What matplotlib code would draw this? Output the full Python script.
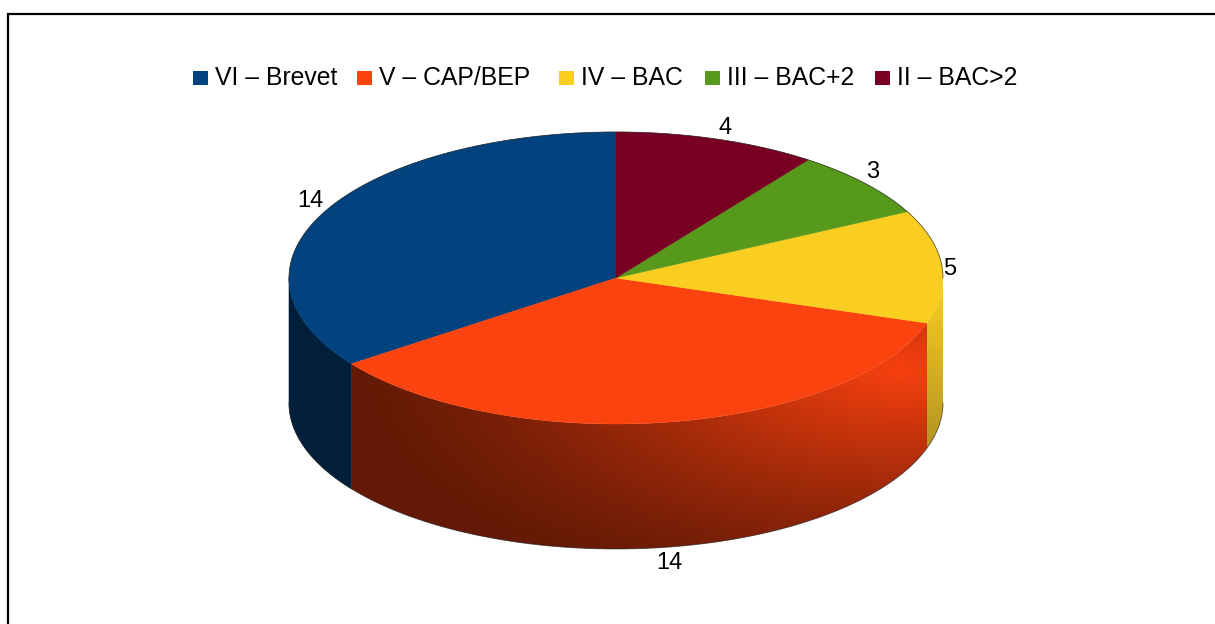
#!/usr/bin/env python3
"""3D-looking pie of diploma levels, drawn with polygons on a pixel-sized axes."""
import numpy as np
import matplotlib
matplotlib.use('Agg')
import matplotlib.pyplot as plt
from matplotlib.patches import Polygon, Rectangle

plt.rcParams['font.family'] = ['Liberation Sans', 'DejaVu Sans']

labels = ['VI – Brevet', 'V – CAP/BEP', 'IV – BAC', 'III – BAC+2', 'II – BAC>2']
values = [14, 14, 5, 3, 4]
colors = ['#01427f', '#fb430f', '#f9ce20', '#57991b', '#780022']

W, H = 1215, 624
CX, CY = 616, 278
RX, RY = 327, 146
DEPTH = 125

# offsets of the value labels from the rim point at each slice's mid angle
label_offsets = [(-14, -11), (2, 16), (8, 2), (8, -11), (8, -11)]
legend_boxes = [193, 357, 559, 705, 875]
legend_text = [215, 379, 581, 727, 897]


def rim(ang):
    a = np.radians(ang)
    return CX + RX * np.cos(a), CY - RY * np.sin(a)


def arc(a0, a1, n=200):
    xs, ys = rim(np.linspace(a0, a1, n))
    return np.column_stack([xs, ys])


fig = plt.figure(figsize=(W / 100, H / 100), dpi=100)
ax = fig.add_axes([0, 0, 1, 1])
ax.set_xlim(0, W)
ax.set_ylim(H, 0)
ax.axis('off')

# slice angles, going counter-clockwise from the top
total = sum(values)
angles = [90.0]
for v in values:
    angles.append(angles[-1] + v / total * 360)

# yellow side, partly hidden by the orange one
top = arc(angles[2], 360.0)
yellow_side = Polygon(np.vstack([top, top[::-1] + [0, DEPTH]]), closed=True, fc='none', ec='none')
ax.add_patch(yellow_side)
yy = np.linspace(0, 1, 128).reshape(-1, 1)
ramp = np.dstack([0.98 - 0.30 * yy, 0.81 - 0.25 * yy, 0.13 * np.ones_like(yy)])
im = ax.imshow(ramp, extent=[915, 945, CY + DEPTH + 60, CY], aspect='auto', zorder=1)
im.set_clip_path(yellow_side)

# orange side with a soft light spot towards the upper right
top = arc(angles[1], angles[2])
orange_side = Polygon(np.vstack([top, top[::-1] + [0, DEPTH]]), closed=True, fc='none', ec='none')
ax.add_patch(orange_side)
gx, gy = np.meshgrid(np.arange(340, 940), np.arange(310, 560))
dist = np.sqrt(((gx - 900) / 520) ** 2 + ((gy - 370) / 230) ** 2)
shade = 0.39 + 0.58 * np.clip(1.0 - dist / 1.05, 0, 1) ** 1.3
orange_rgb = np.dstack([shade * 1.0, shade * 0.26, shade * 0.06])
im = ax.imshow(orange_rgb, extent=[340, 940, 560, 310], aspect='auto', zorder=2)
im.set_clip_path(orange_side)

# blue side, on top of the orange seam
top = arc(180.0, angles[1])
ax.add_patch(Polygon(np.vstack([top, top[::-1] + [0, DEPTH]]), closed=True,
                     fc='#011e3a', ec='#011e3a', lw=0.4, zorder=3))

# top faces
for i, c in enumerate(colors):
    pts = np.vstack([[CX, CY], arc(angles[i], angles[i + 1])])
    ax.add_patch(Polygon(pts, closed=True, fc=c, ec=c, lw=0.3, zorder=4))

# dark outline along the silhouette
ax.plot(*arc(0, 180).T, color='#222222', lw=0.6, alpha=0.7, zorder=5)
ax.plot(*(arc(180, 360) + [0, DEPTH]).T, color='#222222', lw=0.6, alpha=0.7, zorder=5)

# value labels
for i, v in enumerate(values):
    x, y = rim((angles[i] + angles[i + 1]) / 2)
    if i == 1:
        y += DEPTH
    dx, dy = label_offsets[i]
    ax.text(x + dx, y + dy, str(v), fontsize=17, ha='center', va='center', color='black', zorder=6)

# legend
for x0, xt, lab, c in zip(legend_boxes, legend_text, labels, colors):
    ax.add_patch(Rectangle((x0, 71), 15, 13.5, fc=c, ec='none'))
    ax.text(xt, 85, lab, fontsize=17.8, ha='left', va='baseline', color='black')

# frame of the screenshot: only left and top edges are visible
ax.plot([8, 8, W], [H, 14, 14], color='black', lw=1.6, solid_joinstyle='miter')

fig.savefig('out.png', dpi=100)
